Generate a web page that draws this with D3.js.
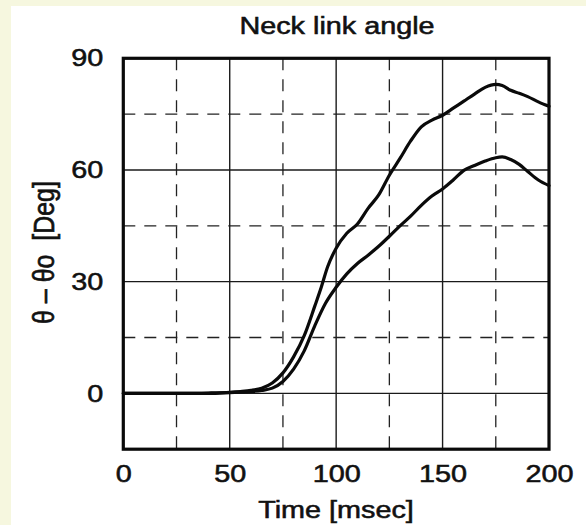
<!DOCTYPE html>
<html>
<head>
<meta charset="utf-8">
<script src="https://cdn.jsdelivr.net/npm/d3@7"></script>
<style>
  html, body { margin: 0; padding: 0; background: #f6f7df; }
  svg { display: block; }
  text { font-family: "Liberation Sans", Arial, Helvetica, sans-serif; fill: #111; stroke: #111; stroke-width: 0.55px; }
</style>
</head>
<body>
<svg id="chart" width="586" height="525"></svg>
<script>
// Axis ticks
const timeTicks = [0, 50, 100, 150, 200];
const angleTicks = [0, 30, 60, 90];
const timeDashed = [25, 75, 125, 175];
const angleDashed = [15, 45, 75];

// Upper trace: time [msec] and angle [deg]
const upperTime  = [0, 10, 20, 30, 40, 50, 55, 60, 65, 70, 75, 80, 85, 90, 93, 96, 100, 105, 110, 115, 120, 125, 130, 135, 140, 145, 150, 155, 160, 165, 170, 175, 178, 182, 186, 190, 195, 200];
const upperAngle = [0, 0, 0, 0, 0.1, 0.3, 0.5, 0.8, 1.4, 2.8, 5.5, 9.8, 15.5, 23.5, 28.5, 34, 39, 43, 45.5, 49.7, 53.3, 58.6, 63.1, 67.8, 71.6, 73.4, 74.7, 76.6, 78.5, 80.4, 82.2, 83, 82.7, 81.4, 80.6, 79.7, 78.3, 77.1];

// Lower trace
const lowerTime  = [0, 10, 20, 30, 40, 50, 60, 65, 70, 75, 80, 85, 90, 95, 100, 105, 110, 115, 120, 125, 130, 135, 140, 145, 150, 155, 160, 165, 170, 175, 178, 182, 186, 190, 195, 200];
const lowerAngle = [0, 0, 0, 0, 0, 0.2, 0.5, 0.8, 1.4, 3.2, 6.5, 11.4, 18.2, 24.2, 28.5, 32.1, 34.9, 37.1, 39.5, 42.2, 45, 47.6, 50.5, 53, 54.9, 57.3, 59.9, 61.2, 62.4, 63.3, 63.5, 62.8, 61.5, 59.6, 57.3, 55.8];

const W = 586, H = 525;
const plot = { left: 123.3, right: 549, top: 58.3, bottom: 449.2 };
const STRETCH = 1.2;   // lettering is set wide

const svg = d3.select("#chart");

// paper area
svg.append("rect").attr("x", 11).attr("y", 6).attr("width", W - 11).attr("height", H - 6).attr("fill", "#ffffff");

const x = d3.scaleLinear().domain([0, 200]).range([plot.left, plot.right]);
const y = d3.scaleLinear().domain([-15, 90]).range([plot.bottom, plot.top]);

const grid = svg.append("g");

// dashed grid
grid.selectAll("line.vd").data(timeDashed).join("line")
  .attr("x1", d => x(d)).attr("x2", d => x(d))
  .attr("y1", plot.top).attr("y2", plot.bottom)
  .attr("stroke", "#222").attr("stroke-width", 1.3).attr("stroke-dasharray", "12,9");
grid.selectAll("line.hd").data(angleDashed).join("line")
  .attr("x1", plot.left).attr("x2", plot.right)
  .attr("y1", d => y(d)).attr("y2", d => y(d))
  .attr("stroke", "#222").attr("stroke-width", 1.3).attr("stroke-dasharray", "12,9");

// solid grid
grid.selectAll("line.vs").data(timeTicks.slice(1, -1)).join("line")
  .attr("x1", d => x(d)).attr("x2", d => x(d))
  .attr("y1", plot.top).attr("y2", plot.bottom)
  .attr("stroke", "#1a1a1a").attr("stroke-width", 1.4);
grid.selectAll("line.hs").data(angleTicks.slice(0, -1)).join("line")
  .attr("x1", plot.left).attr("x2", plot.right)
  .attr("y1", d => y(d)).attr("y2", d => y(d))
  .attr("stroke", "#1a1a1a").attr("stroke-width", 1.4);

// traces
const line = d3.line().x(d => x(d[0])).y(d => y(d[1])).curve(d3.curveMonotoneX);
const traces = [d3.zip(upperTime, upperAngle), d3.zip(lowerTime, lowerAngle)];
svg.append("g").selectAll("path").data(traces).join("path")
  .attr("d", line)
  .attr("fill", "none").attr("stroke", "#0a0a0a").attr("stroke-width", 3.2)
  .attr("stroke-linejoin", "round").attr("stroke-linecap", "round");

// frame
svg.append("rect")
  .attr("x", plot.left).attr("y", plot.top)
  .attr("width", plot.right - plot.left).attr("height", plot.bottom - plot.top)
  .attr("fill", "none").attr("stroke", "#0a0a0a").attr("stroke-width", 3.2);

// axes
const xAxis = svg.append("g")
  .attr("transform", `translate(0,${plot.bottom})`)
  .call(d3.axisBottom(x).tickValues(timeTicks).tickSize(0).tickPadding(16).tickFormat(d3.format("d")));
const yAxis = svg.append("g")
  .attr("transform", `translate(${plot.left},0)`)
  .call(d3.axisLeft(y).tickValues(angleTicks).tickSize(0).tickPadding(20 / STRETCH).tickFormat(d3.format("d")));

[xAxis, yAxis].forEach(ax => {
  ax.select(".domain").remove();
  ax.selectAll("text")
    .attr("font-size", 24)
    .attr("fill", "#111")
    .attr("font-family", '"Liberation Sans", Arial, Helvetica, sans-serif')
    .attr("transform", `scale(${STRETCH},1)`);
});

// title
svg.append("text")
  .attr("transform", `translate(337,34) scale(${STRETCH},1)`)
  .attr("text-anchor", "middle").attr("font-size", 24)
  .text("Neck link angle");

// x axis title
svg.append("text")
  .attr("transform", `translate(336,518) scale(${STRETCH},1)`)
  .attr("text-anchor", "middle").attr("font-size", 24)
  .text("Time [msec]");

// y axis title
svg.append("text")
  .attr("transform", `translate(54,252.5) rotate(-90) scale(1.04,${STRETCH})`)
  .attr("text-anchor", "middle").attr("font-size", 24)
  .style("white-space", "pre")
  .text("θ – θo  [Deg]");
</script>
</body>
</html>
